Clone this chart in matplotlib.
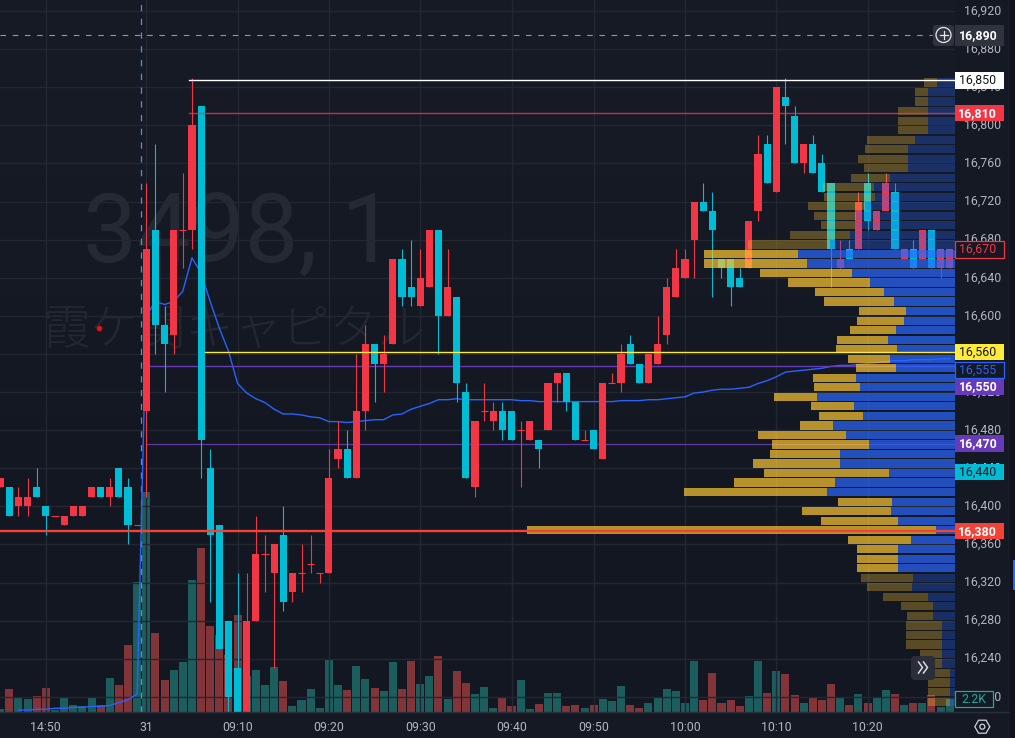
import numpy as np
import matplotlib
matplotlib.use('Agg')
import matplotlib.pyplot as plt
from matplotlib.patches import Rectangle, FancyBboxPatch, Circle, RegularPolygon
from matplotlib.lines import Line2D
from matplotlib.transforms import IdentityTransform, ScaledTranslation

plt.rcParams['font.family'] = ['Roboto', 'Noto Sans CJK JP', 'DejaVu Sans']

BG = '#151924'
UP = '#f23645'
DOWN = '#00bcd4'
GREY = '#b2b5be'
GRID = '#232732'

# candles, first bar index is -16 (0 is the 09:00 open on the 31st)
first_bar = -16
opens = [16420, 16420, 16400, 16400, 16420, 16400, 16390, 16380, 16390, 16390, 16410, 16420, 16410, 16440, 16420, 16380,
         16500, 16690, 16590, 16580, 16690, 16690, 16820, 16440, 16380, 16280,
         16230, 16180, 16280, 16350, 16330, 16370, 16310, 16330, 16340, 16330,
         16330, 16450, 16460, 16430, 16500, 16570, 16550, 16570, 16660, 16630,
         16610, 16630, 16690, 16600, 16620, 16520, 16420, 16500, 16490, 16500,
         16500, 16480, 16470, 16470, 16480, 16530, 16540, 16510, 16470, 16480,
         16450, 16530, 16530, 16570, 16550, 16530, 16550, 16580, 16620, 16640,
         16680, 16720, 16710, 16660, 16660, 16640, 16650, 16710, 16780, 16730,
         16830, 16810, 16760, 16780, 16760, 16740, 16650, 16670, 16670, 16740,
         16690, 16710, 16730, 16660, 16670, 16660, 16690, 16650, 16650]
highs = [16430, 16420, 16420, 16430, 16440, 16400, 16390, 16390, 16400, 16400, 16420, 16420, 16430, 16440, 16430, 16380,
         16740, 16780, 16610, 16690, 16750, 16850, 16820, 16460, 16380, 16280,
         16330, 16330, 16390, 16370, 16360, 16400, 16330, 16360, 16370, 16330,
         16460, 16490, 16480, 16560, 16590, 16570, 16580, 16660, 16670, 16680,
         16670, 16690, 16690, 16670, 16620, 16530, 16490, 16530, 16510, 16510,
         16500, 16490, 16490, 16470, 16530, 16540, 16540, 16510, 16480, 16480,
         16530, 16540, 16570, 16580, 16550, 16560, 16600, 16640, 16670, 16670,
         16720, 16740, 16730, 16660, 16660, 16650, 16700, 16790, 16790, 16840,
         16850, 16820, 16780, 16790, 16770, 16740, 16680, 16680, 16730, 16750,
         16710, 16750, 16740, 16670, 16680, 16690, 16690, 16670, 16670]
lows = [16420, 16390, 16390, 16390, 16410, 16370, 16390, 16380, 16390, 16390, 16410, 16410, 16400, 16410, 16360, 16380,
        16410, 16560, 16520, 16560, 16650, 16670, 16430, 16300, 16250, 16170,
        16180, 16180, 16280, 16310, 16230, 16290, 16300, 16310, 16330, 16320,
        16330, 16440, 16430, 16430, 16480, 16510, 16520, 16570, 16610, 16610,
        16610, 16630, 16560, 16600, 16510, 16430, 16410, 16490, 16480, 16470,
        16470, 16420, 16470, 16440, 16480, 16510, 16500, 16470, 16470, 16460,
        16450, 16530, 16520, 16550, 16530, 16530, 16550, 16570, 16620, 16640,
        16640, 16710, 16620, 16640, 16610, 16630, 16650, 16700, 16740, 16730,
        16780, 16760, 16750, 16750, 16730, 16630, 16650, 16660, 16670, 16690,
        16690, 16710, 16670, 16660, 16650, 16660, 16650, 16640, 16650]
closes = [16430, 16390, 16410, 16410, 16410, 16390, 16390, 16390, 16400, 16400, 16420, 16410, 16420, 16410, 16380, 16380,
          16670, 16590, 16570, 16690, 16690, 16800, 16470, 16370, 16250, 16200,
          16180, 16280, 16350, 16350, 16360, 16300, 16330, 16330, 16340, 16330,
          16430, 16460, 16430, 16500, 16570, 16550, 16560, 16660, 16620, 16620,
          16640, 16690, 16600, 16630, 16530, 16430, 16490, 16500, 16500, 16480,
          16470, 16480, 16490, 16460, 16530, 16540, 16510, 16470, 16470, 16460,
          16530, 16530, 16560, 16550, 16530, 16560, 16570, 16630, 16650, 16660,
          16720, 16710, 16690, 16650, 16630, 16630, 16700, 16770, 16740, 16840,
          16820, 16760, 16780, 16750, 16730, 16670, 16660, 16660, 16720, 16700,
          16710, 16740, 16670, 16670, 16650, 16690, 16650, 16670, 16670]

# volume in thousands
volumes = [0.5, 3.8, 2.3, 2.2, 2.7, 4.0, 0.4, 2.3, 1.2, 1.0, 2.5, 1.2, 5.7, 4.5, 11.2, 21.7,
           36.7, 13.2, 5.3, 7.0, 8.3, 22.0, 27.3, 14.3, 12.8, 9.5,
           16.2, 6.0, 7.0, 4.5, 7.5, 5.2, 1.0, 2.0, 3.8, 0.7,
           8.8, 4.5, 3.7, 7.7, 5.5, 4.0, 3.5, 8.3, 3.8, 8.5,
           4.7, 6.0, 9.3, 2.2, 6.8, 4.8, 3.0, 4.2, 0.7, 2.3,
           1.0, 5.3, 0.5, 1.3, 3.2, 3.2, 1.0, 1.2, 0.7, 1.2,
           2.2, 1.8, 4.3, 1.2, 0.7, 1.5, 2.3, 3.8, 3.5, 1.5,
           8.5, 2.0, 6.5, 1.5, 2.0, 1.0, 2.7, 8.5, 3.2, 6.8,
           6.3, 2.8, 1.5, 2.5, 2.0, 4.7, 2.5, 1.2, 3.0, 1.5,
           2.3, 3.7, 3.0, 1.2, 1.5, 1.5, 2.8, 0.8, 2.2]

# vwap line, starts at bar -14
vwap_first = -14
vwap = [16186, 16186, 16187, 16187, 16188, 16188, 16189, 16189, 16190, 16190, 16191, 16194, 16197, 16203,
        16600, 16615, 16612, 16615, 16626, 16661, 16645, 16615, 16587, 16563,
        16529, 16519, 16513, 16509, 16502, 16497, 16497, 16496, 16494, 16493,
        16489, 16489, 16488, 16489, 16490, 16491, 16491, 16496, 16497, 16502,
        16505, 16508, 16512, 16512, 16513, 16512, 16512, 16512, 16512, 16512,
        16512, 16511, 16511, 16510, 16510, 16510, 16510, 16510, 16510, 16510,
        16510, 16510, 16511, 16511, 16511, 16512, 16512, 16513, 16514, 16515,
        16519, 16520, 16522, 16523, 16523, 16524, 16525, 16529, 16532, 16536,
        16541, 16542, 16543, 16544, 16545, 16547, 16548, 16548, 16549, 16550,
        16551, 16552, 16553, 16553, 16554, 16554, 16554, 16555, 16555]

# volume profile rows
profile_prices = [16845, 16835, 16825, 16815, 16805, 16795, 16785, 16775, 16765, 16755, 16745, 16735, 16725,
                  16715, 16705, 16695, 16685, 16675, 16665, 16655, 16645, 16635, 16625, 16615, 16605,
                  16595, 16585, 16575, 16565, 16555, 16545, 16535, 16525, 16515, 16505, 16495, 16485,
                  16475, 16465, 16455, 16445, 16435, 16425, 16415, 16405, 16395, 16385, 16375, 16365,
                  16355, 16345, 16335, 16325, 16315, 16305, 16295, 16285, 16275, 16265, 16255, 16245,
                  16235, 16225, 16215, 16205, 16195]
profile_buy = [18, 27, 27, 27, 27, 27, 40, 47, 47, 47, 65, 81, 80,
               90, 99, 100, 105, 125, 157, 148, 103, 85, 71, 61, 49,
               51, 59, 67, 58, 65, 59, 99, 95, 138, 101, 92, 122,
               109, 86, 115, 115, 66, 120, 128, 63, 64, 57, 19, 44,
               57, 57, 57, 42, 43, 27, 22, 22, 13, 13, 13, 13,
               13, 5, 5, 5, 5]
profile_sell = [13, 13, 13, 30, 30, 30, 48, 43, 50, 44, 39, 51, 51,
                57, 42, 34, 60, 82, 94, 103, 92, 82, 69, 70, 47,
                47, 46, 51, 61, 42, 40, 43, 46, 43, 43, 44, 33,
                88, 97, 70, 87, 125, 101, 143, 54, 89, 77, 409, 63,
                41, 41, 41, 52, 45, 45, 32, 26, 36, 36, 36, 22,
                17, 22, 22, 22, 22]
value_area = (16335, 16665)

# axis ticks
price_ticks = list(range(16200, 16960, 40))
time_ticks = [-11, 0, 10, 20, 30, 40, 49, 59, 69, 79]
time_labels = ['14:50', '31', '09:10', '09:20', '09:30', '09:40', '09:50', '10:00', '10:10', '10:20']

# price tags on the right scale (text, position on scale, face, text colour, bold)
tag_text = ['16,850', '16,810', '16,670', '16,560', '16,555', '16,550', '16,470', '16,440', '16,380']
tag_pos = [16847, 16812.7, 16669.5, 16562, 16543, 16525.6, 16466, 16436, 16374]
tag_face = ['#ffffff', '#f23645', '#151924', '#ffeb3b', '#151924', '#673ab7', '#673ab7', '#00bcd4', '#f44336']
tag_color = ['#131722', '#ffffff', '#f23645', '#131722', '#2962ff', '#ffffff', '#ffffff', '#131722', '#ffffff']
tag_bold = [False, True, False, False, False, True, True, False, True]

x = np.arange(first_bar, first_bar + len(opens))
o = np.array(opens)
c = np.array(closes)
up = c >= o

# figure is laid out in pixels: plot area is 955 wide and 712 high
fig = plt.figure(figsize=(10.15, 7.38), dpi=100, facecolor=BG)
rect = [0, 26 / 738, 955 / 1015, 712 / 738]

ax_vol = fig.add_axes(rect, facecolor=BG)
ax = ax_vol.twinx()
ax_vol.set_zorder(1)
ax.set_zorder(2)
ax.patch.set_visible(False)

x_left = -146.3 / 9.13
x_right = (955 - 146.3) / 9.13

# background is a little darker towards the bottom
shade = np.array([[[22, 26, 37]], [[19, 23, 34]]], dtype=np.uint8)
ax_vol.imshow(shade, extent=[x_left, x_right, 0, 712 / 6], aspect='auto', interpolation='bilinear', zorder=0)

ax_vol.set_xlim(x_left, x_right)
ax_vol.set_ylim(0, 712 / 6)
ax_vol.set_yticks([])
ax.set_ylim(16184.1, 16931.65)

ax_prof = ax.twiny()
ax_prof.set_zorder(3)
ax_prof.patch.set_visible(False)
ax_prof.set_xlim(955, 0)
ax_prof.set_xticks([])


def frac(i):
    return (i - x_left) / (x_right - x_left)


for a in [ax_vol, ax, ax_prof]:
    for s in a.spines.values():
        s.set_visible(False)

# ticks and grid
ax.set_axisbelow(True)
ax.yaxis.tick_right()
ax.set_yticks(price_ticks)
ax.set_yticklabels([f'{p:,}' for p in price_ticks])
ax.tick_params(axis='y', length=0, pad=6.2, labelsize=8.9, labelcolor=GREY)
ax.grid(axis='y', color=GRID, lw=1.0)
lift = ScaledTranslation(0, 1.5 / 100, fig.dpi_scale_trans)
for lab in ax.get_yticklabels():
    lab.set_transform(lab.get_transform() + lift)
ax_vol.set_xticks(time_ticks)
ax_vol.set_xticklabels(time_labels)
ax_vol.tick_params(axis='x', length=0, pad=6.5, labelsize=8.9, labelcolor=GREY)
for t in time_ticks:
    ax.axvline(t, color=GRID, lw=1.0, zorder=0.5)

# watermark
ax.text(83 / 955, 1 - 262 / 712, '3498, 1', transform=ax.transAxes, fontsize=69, color='#252933',
        va='baseline', ha='left', zorder=0.1)
ax.text(43 / 955, 1 - 344 / 712, '霞ケ関キャピタル', transform=ax.transAxes, fontsize=34.5, color='#232731',
        va='baseline', ha='left', zorder=0.1, family=['Noto Sans CJK JP', 'DejaVu Sans'], weight='light')
ax.plot([99 / 955], [1 - 328 / 712], transform=ax.transAxes, marker='o', ms=4, color='#e01515', mew=0, zorder=0.2)

# volume bars, colours run opposite to the candles here
ax_vol.bar(x[up], np.array(volumes)[up], width=0.88, color='#26a69a', alpha=0.5, lw=0, zorder=1)
ax_vol.bar(x[~up], np.array(volumes)[~up], width=0.88, color='#ef5350', alpha=0.5, lw=0, zorder=1)

# crosshair
ax.axvline(-0.55, color='#5b8dd6', lw=0.9, ls=(0, (5, 6)), zorder=1)
ax.axhline(16894.6, color='#9598a1', lw=0.8, ls=(0, (5, 6)), xmax=932 / 955, zorder=1)

# vwap and level lines under the candles
ax.plot(np.arange(vwap_first, vwap_first + len(vwap)), vwap, color='#2962ff', lw=1.0, zorder=1.5)
ax.hlines(16547, 0.3, x_right, color='#673ab7', lw=1.0, zorder=1.6)
ax.hlines(16466, 0, x_right, color='#5e3a9e', lw=0.9, zorder=1.6)

# candles
colors = [UP if u else DOWN for u in up]
ax.vlines(x, lows, highs, color=colors, lw=0.8, zorder=2)
body = np.abs(c - o)
bottoms = np.minimum(o, c)
solid = body > 0
ax.bar(x[solid], body[solid], bottom=bottoms[solid], width=0.78, color=np.array(colors)[solid], lw=0, zorder=3)
ax.hlines(o[~solid], x[~solid] - 0.39, x[~solid] + 0.39, color=np.array(colors)[~solid], lw=0.8, zorder=3)

# volume profile over everything, brighter inside the value area
prof_p = np.array(profile_prices)
prof_b = np.array(profile_buy)
prof_s = np.array(profile_sell)
inside = (prof_p >= value_area[0]) & (prof_p <= value_area[1])
for mask, alpha in [(inside, 0.7), (~inside, 0.3)]:
    ax_prof.barh(prof_p[mask], prof_b[mask], height=8.6, color='#2968ff', alpha=alpha, lw=0, zorder=2)
    ax_prof.barh(prof_p[mask], prof_s[mask], left=prof_b[mask], height=8.6, color='#fec631', alpha=alpha, lw=0, zorder=2)

# level lines drawn on top
ax_prof.axhline(16847.7, xmin=frac(4.7), color='#ffffff', lw=1.0, zorder=4)
ax_prof.axhline(16812.7, xmin=frac(4.7), color='#f23645', lw=1.0, alpha=0.8, zorder=4)
ax_prof.axhline(16562, xmin=frac(6.4), color='#ffeb3b', lw=1.0, zorder=4)
ax_prof.axhline(16374, color='#f44336', lw=1.7, zorder=4)

# tags on the price scale
yt = ax_prof.get_yaxis_transform()
tag_w = 48.5 / 955
for text, pos, face, col, bold in zip(tag_text, tag_pos, tag_face, tag_color, tag_bold):
    outlined = face == BG
    ax_prof.add_patch(Rectangle((1.0, pos - 8.6), tag_w, 17.2, transform=yt, clip_on=False, facecolor=face,
                                edgecolor=col if outlined else face, lw=0.9 if outlined else 0, zorder=10))
    ax_prof.text(1.0 + tag_w / 2 - 0.0015, pos + 1.5, text, transform=yt, clip_on=False, color=col, fontsize=8.9,
                 weight='bold' if bold else 'normal', ha='center', va='center_baseline', zorder=11)

# cursor tag
ax_prof.add_patch(Rectangle((1.0, 16894.6 - 11), tag_w, 22, transform=yt, clip_on=False, facecolor='#2f333e', lw=0, zorder=10))
ax_prof.text(1.0 + tag_w / 2 - 0.0015, 16896.1, '16,890', transform=yt, clip_on=False, color='#ffffff', fontsize=8.9,
             weight='bold', ha='center', va='center_baseline', zorder=11)

# volume tag
ax_prof.add_patch(Rectangle((1.0, 16189.4), 38 / 955, 16.8, transform=yt, clip_on=False,
                            facecolor=BG, edgecolor='#26a69a', lw=0.9, zorder=10))
ax_prof.text(1.0 + 19 / 955, 16199, '2.2K', transform=yt, clip_on=False, color='#26a69a',
             fontsize=8.9, ha='center', va='center_baseline', zorder=11)


# interface bits placed in pixels
def py(y):
    return 738 - y


idt = IdentityTransform()
extras = [
    FancyBboxPatch((936, py(43)), 15, 15, boxstyle='round,pad=3,rounding_size=3', transform=idt,
                   facecolor='#2f333e', lw=0),
    Circle((943.5, py(35)), 7.5, transform=idt, facecolor='none', edgecolor='#e8e8ec', lw=0.9),
    Line2D([939.5, 947.5], [py(35), py(35)], transform=idt, color='#e8e8ec', lw=0.9),
    Line2D([943.5, 943.5], [py(31), py(39)], transform=idt, color='#e8e8ec', lw=0.9),
    FancyBboxPatch((914, py(677)), 18, 18, boxstyle='round,pad=3,rounding_size=4', transform=idt,
                   facecolor='#2a2e39', lw=0),
    Line2D([918.5, 922.5, 918.5], [py(662), py(667.5), py(673)], transform=idt, color='#d8d9de', lw=1.1),
    Line2D([923.5, 927.5, 923.5], [py(662), py(667.5), py(673)], transform=idt, color='#d8d9de', lw=1.1),
    Line2D([0, 1009], [py(712), py(712)], transform=idt, color='#2a2e39', lw=1.0),
    Line2D([1009.5, 1009.5], [py(0), py(738)], transform=idt, color='#262a35', lw=1.0),
    Rectangle((1010, 0), 5, 738, transform=idt, facecolor='#10131c', lw=0),
    Rectangle((1013, py(590)), 2, 30, transform=idt, facecolor='#2962ff', lw=0),
    RegularPolygon((982.3, py(726.7)), 6, radius=7.5, orientation=np.pi / 2, transform=idt, facecolor='none',
                   edgecolor='#d1d4dc', lw=0.9),
    Circle((982.3, py(726.7)), 2.5, transform=idt, facecolor='none', edgecolor='#d1d4dc', lw=0.9),
]
for e in extras:
    e.set_zorder(20)
    fig.add_artist(e)

fig.savefig('out.png', dpi=100, facecolor=BG)
